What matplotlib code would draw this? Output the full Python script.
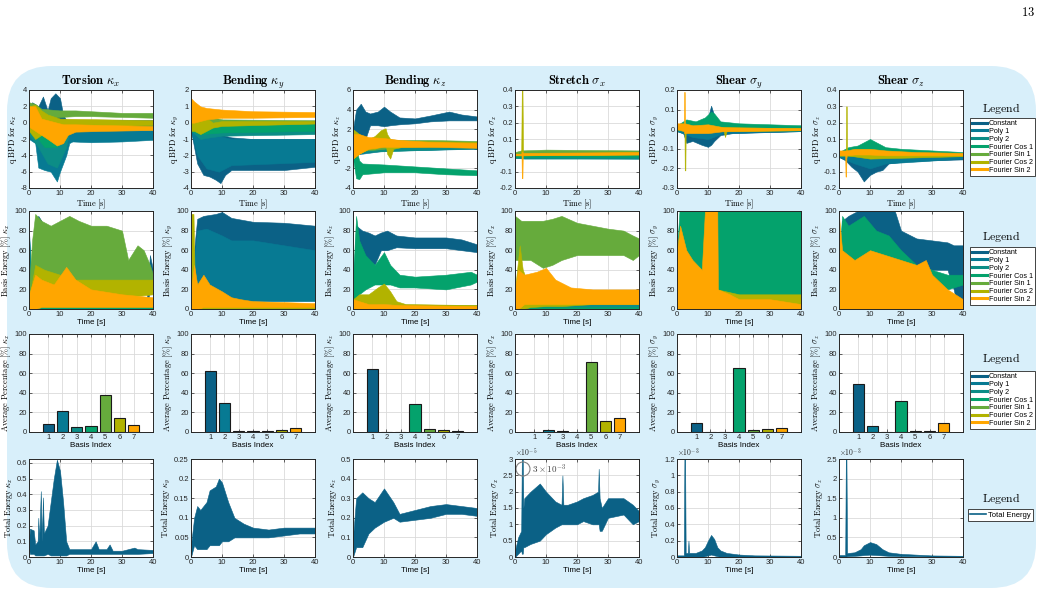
import numpy as np
import matplotlib
matplotlib.use('Agg')
import matplotlib.pyplot as plt
from matplotlib.patches import FancyBboxPatch, Ellipse
from matplotlib.lines import Line2D
from matplotlib.ticker import FuncFormatter

plt.rcParams['font.family'] = ['Liberation Sans', 'DejaVu Sans']
plt.rcParams['mathtext.fontset'] = 'cm'
plt.rcParams['axes.unicode_minus'] = False

# basis names and colours
basis = ["Constant", "Poly 1", "Poly 2", "Fourier Cos 1", "Fourier Sin 1", "Fourier Cos 2", "Fourier Sin 2"]
colors = ["#0b6186", "#077a93", "#0c8d86", "#04a26c", "#66ab3c", "#b2b300", "#ffa600"]

# column titles / symbols
titles = [r"$\mathbf{Torsion}\ \kappa_x$", r"$\mathbf{Bending}\ \kappa_y$", r"$\mathbf{Bending}\ \kappa_z$",
          r"$\mathbf{Stretch}\ \sigma_x$", r"$\mathbf{Shear}\ \sigma_y$", r"$\mathbf{Shear}\ \sigma_z$"]
syms = [r"\kappa_x", r"\kappa_y", r"\kappa_z", r"\sigma_x", r"\sigma_y", r"\sigma_z"]

# ---------------- row 1: q BPD, envelopes (t, low, high) ----------------
q_torsion = {
    "Constant": [(0, -1, 1), (1, -1.5, 2.5), (3, -3, 2), (4.5, -5.5, 3.2), (6, -1, 1.5), (7, -0.5, 3), (8.5, -0.3, 3.6), (10, -0.3, 3), (11, -0.2, 1.0), (12, -0.2, 0.3), (40, -0.2, 0.3)],
    "Poly 1": [(0, -2, 1), (2, -2.5, 1), (3, -5.5, 0.5), (5, -5.8, 0), (7, -6, 0), (9, -7.2, -0.2), (10, -6, 0), (12, -4, -0.3), (13, -2.5, -0.6), (14, -2.3, -0.9), (20, -2.4, -0.9), (30, -2.3, -0.9), (40, -2.1, -0.9)],
    "Poly 2": [(0, -1.5, 1), (3, -3, 0.5), (6, -5, 0), (9, -5.5, -0.2), (12, -3, 0), (13, -1, 0), (40, -0.6, 0)],
    "Fourier Cos 1": [(0, -1, 2), (2, -1.5, 2), (5, -3, 0.5), (9, -3, 0), (12, -1.5, 0), (14, -0.5, 0.2), (40, -0.4, 0.1)],
    "Fourier Sin 1": [(0, 0, 2.5), (2, 0.2, 2.3), (4, 0.5, 1.7), (10, 0.7, 1.5), (15, 0.8, 1.5), (20, 0.8, 1.4), (30, 0.7, 1.2), (40, 0.6, 1.2)],
    "Fourier Cos 2": [(0, -1, 2), (2, -2, 2.2), (4, -1.5, 1.5), (6, -1, 1), (10, -0.5, 0.5), (40, -0.3, 0.3)],
    "Fourier Sin 2": [(0, -0.5, 2), (2, -1, 2), (4, -1.5, 0.5), (6, -2, 0.3), (9, -2.8, 0), (11, -2.5, -0.2), (12.5, -1.5, -0.2), (15, -1.1, -0.2), (25, -1.0, -0.3), (40, -0.9, -0.4)],
}
q_bend_y = {
    "Constant": [(0, -0.5, 0.5), (1, -1.5, 1), (2, -2.5, 0.5), (4, -3.2, 0), (6, -3.3, -0.3), (8, -3.5, -0.6), (9.5, -3.7, -0.7), (11, -3.2, -0.8), (13, -2.9, -0.9), (20, -2.9, -1.0), (30, -2.9, -1.0), (40, -2.7, -1.0)],
    "Poly 1": [(0, -0.5, 0.5), (2, -2, 0), (5, -2.8, -0.5), (9, -3, -0.8), (13, -2.6, -1.0), (40, -2.4, -1.0)],
    "Poly 2": [(0, -0.5, 0.5), (3, -1, 0), (6, -0.9, -0.1), (10, -0.8, -0.1), (40, -0.7, -0.1)],
    "Fourier Cos 1": [(0, -0.5, 0.5), (3, -0.7, 0.2), (10, -0.6, 0), (40, -0.5, 0)],
    "Fourier Sin 1": [(0, -0.3, 0.6), (3, -0.3, 0.5), (10, -0.1, 0.2), (40, -0.05, 0.15)],
    "Fourier Cos 2": [(0, -0.5, 1.3), (1, -0.5, 1.0), (3, -0.7, 0.8), (5, -0.5, 0.3), (7, -0.3, 0), (10, -0.2, 0.1), (40, -0.05, 0.1)],
    "Fourier Sin 2": [(0, 0, 1.5), (1, 0, 1.3), (3, 0.1, 1), (5, 0.2, 0.9), (10, 0.3, 0.8), (20, 0.3, 0.7), (40, 0.35, 0.65)],
}
q_bend_z = {
    "Constant": [(0, 0, 2), (1, -0.5, 4), (2.5, -0.5, 4.6), (4, 1, 3.8), (5.5, 2.4, 3.6), (8, 2.4, 3.8), (10, 2.3, 4.3), (12, 2.4, 3.8), (15, 2.5, 3.2), (20, 2.6, 3.1), (25, 2.8, 3.4), (31, 2.9, 3.8), (35, 2.9, 3.5), (40, 2.9, 3.3)],
    "Poly 1": [(0, -0.5, 1), (3, -0.5, 0.8), (10, -0.2, 0.4), (40, 0, 0.3)],
    "Poly 2": [(0, -0.5, 1), (5, -0.3, 0.6), (40, 0.05, 0.3)],
    "Fourier Cos 1": [(0, -1, 0.5), (1, -3, 0), (2, -3.1, -1.2), (3, -2.6, -1.5), (10, -2.4, -1.6), (20, -2.4, -1.8), (30, -2.6, -2.0), (40, -2.7, -2.2)],
    "Fourier Sin 1": [(0, -0.5, 1), (3, -0.2, 1), (10, 0, 1), (15, 0.3, 0.9), (25, 0.4, 0.9), (40, 0.4, 0.8)],
    "Fourier Cos 2": [(0, -1, 2), (2, -0.5, 1.5), (5, 0, 1), (7, 0, 1.3), (9, 0.3, 1.9), (10.5, 0.5, 2.1), (11, -0.5, 1.5), (12, -1.0, 1), (13, 0, 0.9), (16, 0.2, 0.8), (40, 0.3, 0.7)],
    "Fourier Sin 2": [(0, -1, 1.5), (2, -0.5, 1.5), (5, 0, 1.2), (10, 0.2, 1.1), (15, 0.2, 0.9), (25, 0.2, 0.7), (40, 0.1, 0.6)],
}
q_stretch = {
    "Constant": [(0, -0.01, 0.01), (40, -0.015, 0.005)],
    "Poly 1": [(0, -0.015, 0.01), (40, -0.02, 0.005)],
    "Poly 2": [(0, -0.015, 0.01), (3, -0.02, 0.01), (40, -0.02, 0.005)],
    "Fourier Cos 1": [(0, -0.01, 0.01), (40, -0.01, 0.01)],
    "Fourier Sin 1": [(0, 0, 0.02), (2, 0.005, 0.03), (10, 0.01, 0.035), (40, 0.01, 0.03)],
    "Fourier Cos 2": [(0, 0, 0.01), (2.0, 0, 0.01), (2.2, 0, 0.42), (2.4, 0, 0.42), (2.6, 0, 0.01), (40, 0.005, 0.02)],
    "Fourier Sin 2": [(0, 0, 0.01), (2.1, 0, 0.01), (2.2, -0.14, 0.02), (2.4, -0.14, 0.02), (2.5, 0, 0.015), (40, 0.005, 0.02)],
}
q_shear_y = {
    "Constant": [(0, -0.01, 0.01), (2, -0.02, 0.02), (3, -0.07, 0.03), (5, -0.06, 0.03), (8, -0.08, 0.03), (10, -0.09, 0.06), (11, -0.08, 0.12), (12, -0.06, 0.07), (14, -0.03, 0.03), (18, -0.02, 0.02), (40, -0.01, 0.01)],
    "Poly 1": [(0, -0.01, 0.01), (5, -0.04, 0.02), (10, -0.05, 0.03), (15, -0.02, 0.01), (40, -0.01, 0.005)],
    "Poly 2": [(0, -0.01, 0.01), (40, -0.01, 0.01)],
    "Fourier Cos 1": [(0, 0, 0.02), (3, 0, 0.05), (6, 0, 0.04), (9, 0, 0.06), (11, 0.01, 0.09), (12, 0.01, 0.08), (14, 0.005, 0.04), (20, 0, 0.03), (40, 0, 0.02)],
    "Fourier Sin 1": [(0, -0.005, 0.005), (40, -0.005, 0.005)],
    "Fourier Cos 2": [(0, 0, 0.01), (2.4, 0, 0.01), (2.5, -0.21, 0.02), (2.7, -0.21, 0.02), (2.8, -0.01, 0.01), (15, -0.01, 0.01), (15.5, -0.04, 0.01), (16, -0.01, 0.01), (40, -0.005, 0.005)],
    "Fourier Sin 2": [(0, 0, 0.03), (2.2, -0.01, 0.03), (2.3, -0.02, 0.19), (2.5, -0.02, 0.19), (2.6, -0.02, 0.03), (5, -0.02, 0.02), (10, -0.02, 0.025), (15, -0.01, 0.01), (40, -0.005, 0.005)],
}
q_shear_z = {
    "Constant": [(0, -0.01, 0.02), (2, -0.03, 0.02), (4, -0.07, 0.02), (6, -0.1, 0.02), (8, -0.16, 0.03), (10, -0.12, 0.02), (12, -0.1, 0.02), (14, -0.09, 0.01), (16, -0.05, 0.01), (20, -0.04, 0.01), (30, -0.03, 0.005), (40, -0.025, 0.005)],
    "Poly 1": [(0, -0.01, 0.01), (5, -0.05, 0.01), (10, -0.08, 0.01), (15, -0.05, 0.01), (40, -0.02, 0.005)],
    "Poly 2": [(0, -0.005, 0.01), (40, -0.005, 0.005)],
    "Fourier Cos 1": [(0, 0, 0.02), (3, 0, 0.05), (6, 0, 0.06), (9, 0.01, 0.09), (10, 0.01, 0.1), (12, 0.01, 0.08), (15, 0.005, 0.05), (20, 0.005, 0.04), (30, 0, 0.03), (40, 0, 0.02)],
    "Fourier Sin 1": [(0, -0.005, 0.01), (40, -0.005, 0.01)],
    "Fourier Cos 2": [(0, 0, 0.02), (2.2, 0, 0.02), (2.3, -0.01, 0.3), (2.5, -0.01, 0.3), (2.6, 0, 0.02), (10, -0.02, 0.02), (40, -0.005, 0.01)],
    "Fourier Sin 2": [(0, 0, 0.03), (2.0, 0, 0.03), (2.1, -0.13, 0.03), (2.3, -0.13, 0.03), (2.4, 0, 0.03), (5, 0.005, 0.04), (10, 0.005, 0.04), (15, 0, 0.03), (25, 0, 0.02), (40, 0, 0.015)],
}

# ---------------- row 2: basis energy [%] ----------------
e_torsion = {
    "Constant": [(0, 0, 10), (2, 0, 90), (3, 20, 95), (4, 10, 90), (5, 0, 10), (38, 0, 10), (39, 20, 55), (40, 20, 40)],
    "Poly 1": [(0, 0, 80), (1, 0, 20), (2, 0, 90), (3, 0, 70), (4, 0, 20), (40, 0, 5)],
    "Poly 2": [(0, 0, 75), (1, 0, 10), (40, 0, 5)],
    "Fourier Cos 1": [(0, 0, 20), (2, 0, 5), (40, 0, 5)],
    "Fourier Sin 1": [(0, 0, 20), (1, 5, 70), (2, 20, 97), (4, 25, 90), (7, 25, 85), (10, 25, 90), (13, 25, 95), (16, 25, 90), (20, 25, 85), (25, 25, 85), (30, 25, 80), (32, 20, 50), (35, 20, 65), (37, 20, 60), (39, 15, 45), (40, 20, 35)],
    "Fourier Cos 2": [(0, 0, 10), (2, 10, 45), (5, 10, 40), (10, 10, 35), (15, 10, 30), (25, 10, 30), (40, 15, 30)],
    "Fourier Sin 2": [(0, 0, 15), (2, 0, 35), (4, 2, 30), (8, 2, 25), (12, 2, 43), (15, 2, 30), (20, 2, 20), (30, 2, 15), (40, 2, 12)],
}
e_bend_y = {
    "Constant": [(0, 0, 10), (1, 0, 60), (2, 50, 92), (4, 55, 95), (8, 55, 97), (10, 55, 99), (13, 55, 93), (20, 55, 89), (30, 55, 88), (40, 50, 85)],
    "Poly 1": [(0, 0, 20), (1, 0, 50), (2, 2, 80), (5, 3, 82), (10, 5, 75), (13, 8, 70), (20, 8, 70), (30, 8, 65), (40, 8, 60)],
    "Poly 2": [(0, 0, 5), (40, 0, 3)],
    "Fourier Cos 1": [(0, 0, 5), (40, 0, 3)],
    "Fourier Sin 1": [(0, 0, 3), (40, 0, 2)],
    "Fourier Cos 2": [(0, 0, 97), (0.8, 0, 97), (1.2, 0, 30), (3, 0, 20), (5, 0, 10), (40, 0, 2)],
    "Fourier Sin 2": [(0, 0, 20), (1, 0, 45), (2, 0, 25), (4, 2, 35), (6, 2, 25), (10, 2, 18), (13, 2, 12), (16, 2, 10), (20, 2, 8), (40, 2, 6)],
}
e_bend_z = {
    "Constant": [(0, 0, 20), (1, 20, 85), (3, 55, 80), (5, 50, 78), (7, 45, 75), (9, 60, 78), (11, 60, 80), (14, 63, 75), (20, 62, 73), (30, 62, 73), (35, 60, 71), (40, 58, 66)],
    "Poly 1": [(0, 0, 5), (40, 0, 3)],
    "Poly 2": [(0, 0, 5), (40, 0, 3)],
    "Fourier Cos 1": [(0, 0, 30), (1, 10, 95), (2, 15, 70), (4, 20, 55), (7, 25, 45), (10, 25, 58), (12, 25, 45), (15, 22, 35), (20, 22, 33), (30, 20, 35), (38, 25, 38), (40, 28, 35)],
    "Fourier Sin 1": [(0, 0, 5), (40, 0, 4)],
    "Fourier Cos 2": [(0, 0, 10), (2, 0, 15), (5, 5, 15), (8, 5, 22), (10, 5, 26), (12, 5, 18), (14, 3, 8), (17, 2, 5), (40, 2, 4)],
    "Fourier Sin 2": [(0, 0, 10), (2, 0, 8), (5, 0, 5), (10, 0, 5), (15, 0, 4), (40, 0, 3)],
}
e_stretch = {
    "Constant": [(0, 0, 3), (40, 0, 3)],
    "Poly 1": [(0, 0, 3), (40, 0, 3)],
    "Poly 2": [(0, 0, 3), (15, 0, 3), (20, 0, 5), (40, 0, 7)],
    "Fourier Cos 1": [(0, 0, 2), (40, 0, 2)],
    "Fourier Sin 1": [(0, 50, 95), (2, 50, 90), (5, 50, 90), (9, 42, 90), (12, 45, 92), (15, 50, 95), (20, 55, 88), (25, 55, 85), (30, 55, 82), (35, 55, 80), (38, 50, 75), (40, 55, 72)],
    "Fourier Cos 2": [(0, 0, 20), (1.5, 0, 65), (2.5, 0, 40), (5, 2, 20), (10, 3, 20), (15, 3, 12), (25, 5, 10), (40, 5, 12)],
    "Fourier Sin 2": [(0, 0, 20), (1, 0, 40), (3, 5, 35), (7, 5, 38), (10, 5, 42), (13, 5, 30), (18, 5, 22), (25, 5, 20), (40, 5, 20)],
}
e_shear_y = {
    "Constant": [(0, 0, 5), (36, 0, 5), (38, 10, 60), (40, 10, 90)],
    "Poly 1": [(0, 0, 5), (40, 0, 5)],
    "Poly 2": [(0, 0, 5), (40, 0, 5)],
    "Fourier Cos 1": [(0, 0, 60), (0.8, 0, 100), (40, 0, 100)],
    "Fourier Sin 1": [(0, 0, 5), (40, 0, 5)],
    "Fourier Cos 2": [(0, 0, 40), (2, 0, 50), (5, 0, 45), (8, 0, 35), (13, 0, 20), (20, 0, 15), (30, 0, 15), (40, 0, 15)],
    "Fourier Sin 2": [(0, 0, 60), (1, 0, 85), (3, 0, 60), (5, 0, 50), (8, 0, 40), (9, 0, 100), (13, 0, 100), (13.2, 0, 20), (17, 0, 15), (20, 0, 10), (30, 0, 10), (40, 0, 5)],
}
e_shear_z = {
    "Constant": [(0, 0, 20), (1, 20, 90), (3, 40, 95), (6, 40, 100), (10, 40, 100), (14, 45, 100), (18, 45, 100), (20, 45, 80), (25, 45, 72), (30, 40, 70), (35, 40, 68), (37, 20, 65), (38, 5, 65), (40, 5, 65)],
    "Poly 1": [(0, 0, 5), (40, 0, 5)],
    "Poly 2": [(0, 0, 5), (40, 0, 5)],
    "Fourier Cos 1": [(0, 0, 50), (1, 10, 95), (3, 20, 85), (8, 20, 95), (12, 20, 80), (16, 20, 75), (20, 15, 60), (25, 15, 45), (30, 15, 40), (35, 20, 35), (40, 25, 35)],
    "Fourier Sin 1": [(0, 0, 5), (40, 0, 5)],
    "Fourier Cos 2": [(0, 0, 10), (40, 0, 5)],
    "Fourier Sin 2": [(0, 0, 95), (1, 0, 60), (5, 0, 50), (10, 0, 60), (15, 0, 55), (20, 0, 50), (25, 0, 45), (28, 0, 50), (30, 0, 35), (35, 0, 20), (40, 0, 10)],
}

# ---------------- row 3: average percentage per basis ----------------
basis_idx = [1, 2, 3, 4, 5, 6, 7]
avg_torsion = [8.5, 21, 5, 6, 38, 14.5, 7]
avg_bend_y = [62, 30, 1.5, 0.8, 0.7, 2, 4]
avg_bend_z = [64, 0.4, 0.5, 29, 3, 2.5, 1.5]
avg_stretch = [0.5, 2.5, 0.8, 0.5, 71, 11.5, 14]
avg_shear_y = [9.5, 0.5, 0.5, 65, 2.5, 3.5, 4.5]
avg_shear_z = [49, 6.5, 0.5, 31.5, 1.5, 1, 9]

# ---------------- row 4: total energy envelopes ----------------
tot_torsion = [(0, 0.05, 0.1), (0.3, 0.02, 0.18), (1.5, 0.02, 0.17), (2, 0.01, 0.08), (2.8, 0.01, 0.1), (3.0, 0.01, 0.25), (3.3, 0.01, 0.1), (3.8, 0.01, 0.42), (4.1, 0.01, 0.1), (4.5, 0.01, 0.38), (4.8, 0.01, 0.15), (6, 0.02, 0.2), (7, 0.01, 0.35), (8, 0.01, 0.5), (9, 0.01, 0.62), (10, 0.01, 0.55), (11, 0.01, 0.35), (12, 0.01, 0.1), (13, 0.02, 0.05), (20, 0.02, 0.05), (21.5, 0.02, 0.1), (22.5, 0.02, 0.05), (25, 0.02, 0.05), (26, 0.02, 0.08), (27, 0.02, 0.04), (30, 0.02, 0.04), (34, 0.02, 0.06), (35, 0.02, 0.05), (40, 0.025, 0.045)]
tot_bend_y = [(0, 0, 0.03), (1, 0.03, 0.1), (2, 0.02, 0.13), (3, 0.02, 0.12), (5, 0.02, 0.14), (6, 0.03, 0.17), (8, 0.03, 0.18), (9, 0.03, 0.2), (10, 0.04, 0.19), (12, 0.04, 0.14), (14, 0.05, 0.1), (17, 0.05, 0.085), (20, 0.05, 0.075), (25, 0.05, 0.07), (30, 0.055, 0.075), (35, 0.06, 0.075), (40, 0.06, 0.075)]
tot_bend_z = [(0, 0, 0.1), (1, 0.05, 0.3), (3, 0.05, 0.33), (5, 0.12, 0.3), (7, 0.15, 0.28), (10, 0.18, 0.35), (13, 0.2, 0.28), (15, 0.18, 0.22), (20, 0.19, 0.24), (25, 0.2, 0.26), (30, 0.22, 0.27), (35, 0.22, 0.26), (40, 0.21, 0.25)]
tot_stretch = [(0, 0, 0.2), (1, 0.1, 0.6), (2, 0.2, 0.8), (2.2, 0.1, 3.1), (2.5, 0.1, 3.1), (2.7, 0.3, 1.5), (3, 0.3, 1.8), (5, 0.4, 2.0), (8, 0.5, 2.25), (10, 0.7, 2.0), (13, 0.9, 1.7), (15, 1.0, 1.6), (15.3, 1.0, 2.5), (15.6, 1.0, 1.6), (17, 1.0, 1.6), (20, 1.0, 1.7), (22, 1.1, 1.8), (25, 1.0, 1.9), (26.8, 1.0, 2.0), (27.0, 1.0, 2.7), (27.3, 0.8, 1.8), (28, 0.8, 1.5), (30, 1.2, 1.8), (35, 1.3, 1.8), (38, 1.0, 1.6), (40, 1.1, 1.4)]
tot_shear_y = [(0, 0, 0.02), (2.2, 0, 0.02), (2.4, 0, 1.3), (2.6, 0, 1.3), (2.8, 0, 0.05), (3.5, 0, 0.05), (3.7, 0, 0.2), (3.9, 0, 0.05), (6, 0, 0.05), (8, 0, 0.08), (9, 0.01, 0.12), (10, 0.02, 0.2), (11, 0.03, 0.27), (12, 0.02, 0.22), (13, 0.01, 0.12), (14, 0, 0.08), (16, 0, 0.05), (20, 0, 0.03), (25, 0, 0.02), (40, 0, 0.015)]
tot_shear_z = [(0, 0, 0.05), (2.0, 0, 0.05), (2.2, 0, 2.5), (2.4, 0, 2.5), (2.6, 0.02, 0.1), (5, 0.03, 0.12), (7, 0.04, 0.2), (8, 0.05, 0.3), (10, 0.06, 0.38), (12, 0.05, 0.33), (14, 0.04, 0.2), (16, 0.03, 0.12), (20, 0.02, 0.08), (25, 0.02, 0.06), (30, 0.01, 0.04), (40, 0.01, 0.03)]

q_data = [q_torsion, q_bend_y, q_bend_z, q_stretch, q_shear_y, q_shear_z]
e_data = [e_torsion, e_bend_y, e_bend_z, e_stretch, e_shear_y, e_shear_z]
avg_data = [avg_torsion, avg_bend_y, avg_bend_z, avg_stretch, avg_shear_y, avg_shear_z]
tot_data = [tot_torsion, tot_bend_y, tot_bend_z, tot_stretch, tot_shear_y, tot_shear_z]

q_lims = [(-8, 4, 2), (-4, 2, 1), (-4, 6, 2), (-0.2, 0.4, 0.1), (-0.3, 0.2, 0.1), (-0.2, 0.4, 0.1)]
tot_lims = [(0, 0.625, 0.1), (0, 0.25, 0.05), (0, 0.5, 0.1), (0, 3, 0.5), (0, 1.2, 0.2), (0, 2.5, 0.5)]
tot_exp = [None, None, None, "-5", "-3", "-3"]

# ---------------- layout (pixels) ----------------
W, H = 1040, 596
fig = plt.figure(figsize=(W / 100, H / 100), dpi=100)

bg = fig.add_axes([0, 0, 1, 1], zorder=-10)
bg.set_xlim(0, W)
bg.set_ylim(H, 0)
bg.axis("off")
bg.add_patch(FancyBboxPatch((7, 66), 1029, 522, boxstyle="round,pad=0,rounding_size=45",
                            fc="#d8effa", ec="none"))
bg.text(1028, 13, r"$\mathrm{13}$", fontsize=9, ha="center", va="center")

col_left = [29, 191, 353, 515, 677, 839]
row_top = [90, 211, 334, 459]
aw, ah = 124, 98


def px(left, top):
    return [left / W, 1 - (top + ah) / H, aw / W, ah / H]


fmt = FuncFormatter(lambda v, p: ("%g" % round(v, 6)))


def style(ax):
    ax.grid(True, color="#dadada", lw=0.6)
    ax.set_axisbelow(True)
    ax.tick_params(direction="in", length=2, width=0.5, top=True, right=True,
                   labelsize=5.5, pad=1.5, colors="#262626")
    for s in ax.spines.values():
        s.set_linewidth(0.7)
        s.set_color("#262626")
    ax.yaxis.set_major_formatter(fmt)


def bands(ax, d):
    for name, c in zip(basis, colors):
        k = np.array(d[name], dtype=float)
        ax.fill_between(k[:, 0], k[:, 1], k[:, 2], color=c, lw=0.4, ec=c)


for i in range(6):
    s = syms[i]
    # row 1
    ax = fig.add_axes(px(col_left[i], row_top[0]))
    bands(ax, q_data[i])
    lo, hi, st = q_lims[i]
    ax.set_ylim(lo, hi)
    ax.set_yticks(np.round(np.arange(lo, hi + st / 2, st), 3))
    ax.set_xlim(0, 40)
    ax.set_xticks([0, 10, 20, 30, 40])
    style(ax)
    ax.set_title(titles[i], fontsize=9, pad=4)
    ax.set_ylabel(r"$\mathrm{q\ BPD\ for\ }" + s + "$", fontsize=6, labelpad=1)
    ax.set_xlabel(r"$\mathrm{Time\ [s]}$", fontsize=6, labelpad=0.5)

    # row 2
    ax = fig.add_axes(px(col_left[i], row_top[1]))
    bands(ax, e_data[i])
    ax.set_ylim(0, 100)
    ax.set_yticks([0, 20, 40, 60, 80, 100])
    ax.set_xlim(0, 40)
    ax.set_xticks([0, 10, 20, 30, 40])
    style(ax)
    ax.set_ylabel(r"$\mathrm{Basis\ Energy\ [\%]\ }" + s + "$", fontsize=6, labelpad=1)
    ax.set_xlabel("Time [s]", fontsize=5.8, labelpad=1)

    # row 3
    ax = fig.add_axes(px(col_left[i], row_top[2]))
    ax.bar(basis_idx, avg_data[i], width=0.8, color=colors, edgecolor="#1a1a1a", lw=0.8)
    ax.set_ylim(0, 100)
    ax.set_yticks([0, 20, 40, 60, 80, 100])
    ax.set_xlim(-0.35, 8.35)
    ax.set_xticks(basis_idx)
    style(ax)
    ax.set_ylabel(r"$\mathrm{Average\ Percentage\ [\%]\ }" + s + "$", fontsize=6, labelpad=1)
    ax.set_xlabel("Basis Index", fontsize=5.8, labelpad=1)

    # row 4
    ax = fig.add_axes(px(col_left[i], row_top[3]))
    k = np.array(tot_data[i], dtype=float)
    ax.fill_between(k[:, 0], k[:, 1], k[:, 2], color=colors[0], lw=0.4, ec=colors[0])
    lo, hi, st = tot_lims[i]
    ax.set_ylim(lo, hi)
    ax.set_yticks(np.round(np.arange(lo, hi + st / 4, st), 3))
    ax.set_xlim(0, 40)
    ax.set_xticks([0, 10, 20, 30, 40])
    style(ax)
    ax.set_ylabel(r"$\mathrm{Total\ Energy\ }" + s + "$", fontsize=6, labelpad=1)
    ax.set_xlabel("Time [s]", fontsize=5.8, labelpad=1)
    if tot_exp[i]:
        ax.text(0.0, 1.0, r"$\times10^{" + tot_exp[i] + "}$", transform=ax.transAxes,
                fontsize=5.5, ha="left", va="bottom", color="#262626")
    if i == 3:
        ax.add_patch(Ellipse((8 / aw, 1 - 10 / ah), 14 / aw, 14 / ah, transform=ax.transAxes,
                             fill=False, ec="#808080", lw=0.8))
        ax.text(17 / aw, 1 - 10 / ah, r"$3\times10^{-3}$", transform=ax.transAxes,
                fontsize=6.5, va="center", ha="left", color="#404040")

# legends
handles = [Line2D([], [], color=c, lw=2.2) for c in colors]
for top, ttl in [(118, 108), (247, 237), (371, 358)]:
    bg.text(1001, ttl, r"$\mathrm{Legend}$", fontsize=8.5, ha="center", va="center")
    leg = fig.legend(handles, basis, loc="upper left", bbox_to_anchor=(970 / W, 1 - top / H),
                     fancybox=False, edgecolor="#262626", framealpha=1, fontsize=5.2,
                     handlelength=2.0, handletextpad=0.3, labelspacing=0.1, borderpad=0.3,
                     borderaxespad=0)
    leg.get_frame().set_linewidth(0.6)

bg.text(1001, 498, r"$\mathrm{Legend}$", fontsize=8.5, ha="center", va="center")
leg = fig.legend([Line2D([], [], color=colors[0], lw=1.2)], ["Total Energy"], loc="upper left",
                 bbox_to_anchor=(968 / W, 1 - 509 / H), fancybox=False, edgecolor="#262626",
                 framealpha=1, fontsize=5.5, handlelength=2.0, handletextpad=0.3, borderpad=0.3,
                 borderaxespad=0)
leg.get_frame().set_linewidth(0.6)

fig.savefig("out.png", dpi=100)
